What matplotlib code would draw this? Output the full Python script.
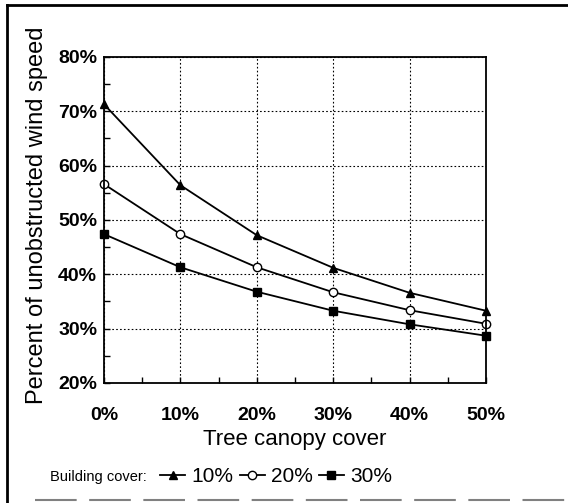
import matplotlib.pyplot as plt
from matplotlib.lines import Line2D
from matplotlib.ticker import MultipleLocator, FuncFormatter

plt.rcParams['font.family'] = ['Liberation Sans', 'DejaVu Sans']

# Data (percent)
canopy = [0, 10, 20, 30, 40, 50]
bldg_10 = [71.3, 56.4, 47.2, 41.2, 36.6, 33.3]
bldg_20 = [56.6, 47.4, 41.3, 36.7, 33.4, 30.9]
bldg_30 = [47.4, 41.3, 36.8, 33.3, 30.8, 28.7]
labels = ["10%", "20%", "30%"]

fig = plt.figure(figsize=(5.68, 5.03), dpi=100)
W, H = 568, 503
ax = fig.add_axes([104 / W, 1 - 383 / H, (486 - 104) / W, (383 - 57) / H])

l1, = ax.plot(canopy, bldg_10, color="black", lw=1.3, marker="^", ms=6, clip_on=False, label=labels[0])
l2, = ax.plot(canopy, bldg_20, color="black", lw=1.3, marker="o", ms=6, mfc="white", clip_on=False, label=labels[1])
l3, = ax.plot(canopy, bldg_30, color="black", lw=1.3, marker="s", ms=5.5, clip_on=False, label=labels[2])

ax.set_xlim(0, 50)
ax.set_ylim(20, 80)
ax.xaxis.set_major_locator(MultipleLocator(10))
ax.xaxis.set_minor_locator(MultipleLocator(5))
ax.yaxis.set_major_locator(MultipleLocator(10))
ax.yaxis.set_minor_locator(MultipleLocator(5))
pct = FuncFormatter(lambda v, p: f"{v:.0f}%")
ax.xaxis.set_major_formatter(pct)
ax.yaxis.set_major_formatter(pct)
ax.tick_params(which="both", direction="in", length=4, width=1)
ax.tick_params(which="major", labelsize=14)
ax.tick_params(axis="x", pad=17)
ax.tick_params(axis="y", pad=5)
for t in ax.get_xticklabels() + ax.get_yticklabels():
    t.set_fontweight("bold")
ax.grid(True, which="major", color="black", linestyle=(0, (1.5, 2)), linewidth=0.8)
for s in ax.spines.values():
    s.set_linewidth(1.3)

ax.set_xlabel("Tree canopy cover", fontsize=16)
ax.set_ylabel("Percent of unobstructed wind speed", fontsize=17)
ax.xaxis.set_label_coords(0.5, 1 - (440 - 57) / (383 - 57), transform=ax.transAxes)
ax.xaxis.label.set_va("center")
ax.yaxis.set_label_coords((37 - 104) / (486 - 104), 1 - (215 - 57) / (383 - 57), transform=ax.transAxes)
ax.yaxis.label.set_va("center")

# legend row at bottom
fig.text(50 / W, 1 - 477 / H, "Building cover:", fontsize=10.5, va="center", ha="left")
fig.legend(handles=[l1, l2, l3], loc="center left", bbox_to_anchor=(160 / W, 1 - 477 / H),
           ncol=3, frameon=False, fontsize=15, handlelength=1.2, handletextpad=0.3,
           columnspacing=0.3, borderaxespad=0, borderpad=0)

# outer frame of the figure panel
fig.add_artist(Line2D([7 / W, 7 / W], [0, 1 - 5 / H], color="black", lw=2))
fig.add_artist(Line2D([7 / W, 1], [1 - 5 / H, 1 - 5 / H], color="black", lw=2))
fig.add_artist(Line2D([35 / W, 1], [1 - 500 / H, 1 - 500 / H], color="gray", lw=1.5,
                      linestyle=(0, (20, 6))))

fig.savefig("out.png", dpi=100)
